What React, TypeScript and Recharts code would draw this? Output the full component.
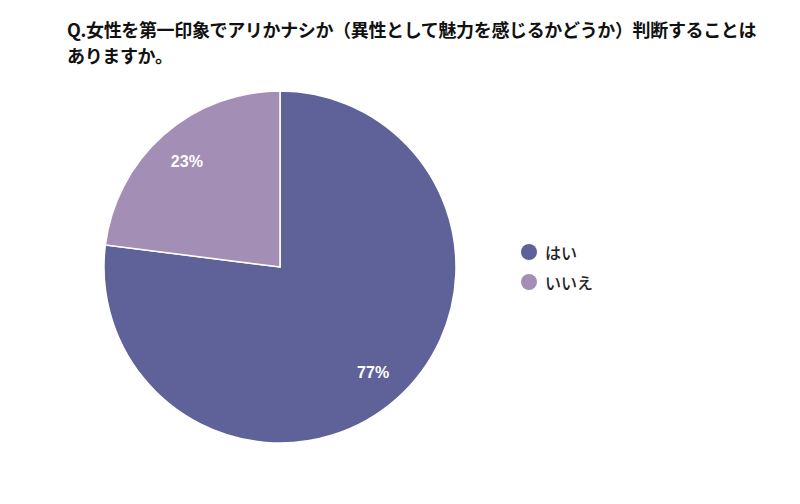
import { PieChart, Pie, Cell, Legend } from "recharts";

const categories = ["はい", "いいえ"];
const shares = [77, 23];
const colors = ["#5e6299", "#a38eb5"];

const TITLE_1 = "Q.女性を第一印象でアリかナシか（異性として魅力を感じるかどうか）判断することは";
const TITLE_2 = "ありますか。";

const data = categories.map((name, i) => ({ name, value: shares[i] }));

const RADIAN = Math.PI / 180;

// percentage sits at ~80% of the radius, centred on the slice
function renderLabel(props: any) {
  const { cx, cy, midAngle, outerRadius, value } = props;
  const r = outerRadius * 0.8;
  const x = cx + r * Math.cos(-midAngle * RADIAN);
  const y = cy + r * Math.sin(-midAngle * RADIAN);
  return (
    <text
      x={x}
      y={y}
      fill="#ffffff"
      textAnchor="middle"
      dominantBaseline="central"
      fontSize={16}
      fontWeight={700}
      fontFamily="'Liberation Sans', Arial, sans-serif"
    >
      {`${value}%`}
    </text>
  );
}

function LegendList() {
  return (
    <div style={{ fontFamily: "'Noto Sans CJK JP', sans-serif", fontSize: 16, fontWeight: 500, color: "#222" }}>
      {data.map((d, i) => (
        <div key={d.name} style={{ display: "flex", alignItems: "center", height: 30 }}>
          <span
            style={{
              width: 16,
              height: 16,
              borderRadius: 8,
              background: colors[i],
              marginRight: 8,
              display: "inline-block",
            }}
          />
          <span>{d.name}</span>
        </div>
      ))}
    </div>
  );
}

export default function App() {
  return (
    <div style={{ position: "absolute", left: 0, top: 0, width: 800, height: 504, background: "#fff" }}>
      <div
        style={{
          position: "absolute",
          left: 67,
          top: 16,
          fontFamily: "'Noto Sans CJK JP', sans-serif",
          fontWeight: 700,
          fontSize: 18,
          lineHeight: "26px",
          color: "#111",
          whiteSpace: "nowrap",
          letterSpacing: -0.35,
        }}
      >
        {TITLE_1}
        <br />
        {TITLE_2}
      </div>
      <PieChart width={800} height={504} margin={{ top: 0, right: 0, bottom: 0, left: 0 }}>
        <Pie
          data={data}
          dataKey="value"
          nameKey="name"
          cx={280}
          cy={267}
          outerRadius={176}
          startAngle={90}
          endAngle={-270}
          stroke="#ffffff"
          strokeWidth={1.5}
          label={renderLabel}
          labelLine={false}
          isAnimationActive={false}
        >
          {data.map((d, i) => (
            <Cell key={d.name} fill={colors[i]} />
          ))}
        </Pie>
        <Legend
          layout="vertical"
          content={() => <LegendList />}
          wrapperStyle={{ left: 521, top: 237, width: 120 }}
        />
      </PieChart>
    </div>
  );
}
